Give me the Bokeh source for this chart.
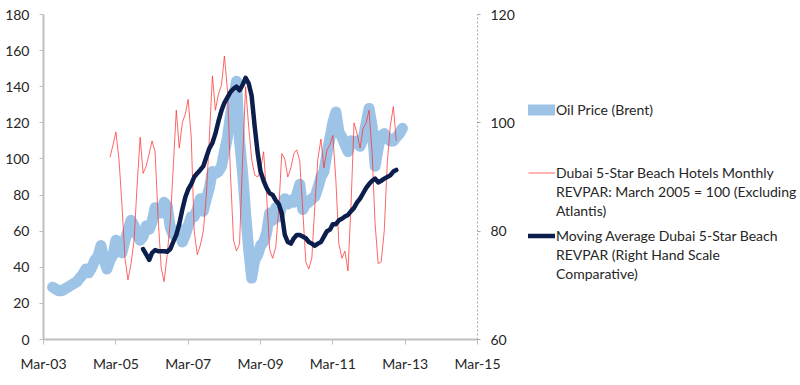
import pandas as pd
from bokeh.plotting import figure
from bokeh.models import (Range1d, LinearAxis, FixedTicker, DatetimeTickFormatter,
                          Legend, LegendItem)
from bokeh.embed import file_html
from bokeh.resources import INLINE

# ---------------- data (monthly) ----------------
oil_start = "2003-06-01"
oil_price = [29, 28, 27, 27, 28, 29, 30,
             31, 32, 34, 36, 39, 37, 40, 44, 46, 52, 44, 39,
             44, 47, 55, 51, 48, 55, 60, 66, 63, 58, 55, 57,
             63, 61, 65, 73, 70, 70, 76, 74, 62, 58, 59, 61,
             54, 58, 63, 68, 68, 72, 78, 71, 78, 84, 93, 92,
             93, 96, 104, 112, 124, 134, 143, 110, 92, 70, 50, 34,
             44, 47, 52, 54, 59, 70, 66, 73, 68, 74, 78, 75,
             77, 76, 80, 86, 72, 75, 76, 78, 79, 84, 90, 93,
             103, 112, 120, 126, 115, 112, 108, 104, 110, 109, 110, 107,
             111, 120, 128, 118, 96, 106, 113, 114, 112, 110, 110, 112,
             114, 117]

revpar_start = "2005-01-01"
revpar_monthly = [101, 108, 115, 100, 75, 45, 33, 42, 55, 85, 112, 92,
                  96, 103, 110, 104, 68, 40, 32, 47, 65, 95, 127, 106,
                  120, 125, 133, 112, 60, 47, 52, 60, 80, 112, 146, 127,
                  136, 141, 157, 138, 92, 55, 49, 53, 100, 140, 118, 100,
                  91, 90, 94, 104, 80, 50, 45, 51, 72, 103, 100, 90,
                  95, 103, 105, 99, 72, 43, 39, 45, 75, 100, 111, 95,
                  105, 108, 113, 88, 53, 45, 49, 38, 75, 120, 114, 106,
                  117, 120, 127, 103, 64, 42, 43, 60, 98, 118, 129, 110]

ma_start = "2005-12-01"
revpar_ma = [76.7, 75.7, 74.7, 76.0, 76.5, 76.3, 76.3, 76.3, 76.2, 76.7, 78.0, 79.3,
             81.3, 84.0, 86.3, 87.7, 88.7, 90.0, 90.7, 91.3, 92.0, 93.7, 95.3, 96.3,
             98.0, 100.3, 102.3, 103.7, 104.7, 105.7, 106.3, 106.7, 106.0, 107.0, 108.3, 107.3,
             105.0, 99.3, 94.3, 91.0, 89.3, 88.0, 87.0, 86.7, 85.7, 85.0, 83.3, 79.3,
             78.0, 77.7, 78.7, 79.3, 79.3, 79.0, 78.7, 78.0, 77.7, 77.3, 77.7, 78.0,
             79.0, 80.0, 80.3, 81.3, 81.3, 82.0, 82.3, 82.7, 83.0, 83.7, 84.3, 85.3,
             86.0, 87.0, 88.0, 88.7, 89.3, 89.7, 89.0, 89.3, 89.7, 90.0, 90.3, 91.0,
             91.3]

tick_dates = ["2003-03-01", "2005-03-01", "2007-03-01", "2009-03-01",
              "2011-03-01", "2013-03-01", "2015-03-01"]

series_names = ["Oil Price (Brent)",
                "Dubai 5-Star Beach Hotels Monthly\nREVPAR: March 2005 = 100 (Excluding\nAtlantis)",
                "Moving Average Dubai 5-Star Beach\nREVPAR (Right Hand Scale\nComparative)"]

left_range = (0, 180)
right_range = (60, 120)
left_ticks = list(range(0, 181, 20))
right_ticks = [60, 80, 100, 120]


def months(start, n):
    return pd.date_range(start, periods=n, freq="MS")


def ms(ts):
    return pd.Timestamp(ts).value / 1e6


def padded(lo, hi, px_lo, px_hi, px_span):
    """extend a data range so that [lo, hi] occupies px_span pixels with
    px_lo pixels of extra room before it and px_hi after it"""
    k = (hi - lo) / px_span
    return Range1d(lo - px_lo * k, hi + px_hi * k)


# ---------------- layout (pixels) ----------------
FONT = "Lato"
TXT = "#262626"
AXIS = "#BFBFBF"
W, H = 800, 385
AX_LEFT = 43              # x of the left axis
AX_RIGHT = 477            # x of the right axis (end of the date axis)
TOP, BOTTOM = 14, 339     # y of the top / bottom of the value axes

x0 = ms(tick_dates[0])
x1 = ms(tick_dates[-1])
x_range = padded(x0, x1, AX_LEFT, W - AX_RIGHT, AX_RIGHT - AX_LEFT)
span = BOTTOM - TOP
y_left = padded(*left_range, H - BOTTOM, TOP, span)
y_right = padded(*right_range, H - BOTTOM, TOP, span)

# the frame covers the whole figure; axes are pinned at fixed data positions
p = figure(width=W, height=H, x_axis_type="datetime",
           x_range=x_range, y_range=y_left,
           output_backend="svg", toolbar_location=None,
           min_border_left=0, min_border_right=0, min_border_top=0,
           min_border_bottom=0)
p.extra_y_ranges = {"right": y_right}
p.outline_line_color = None
p.xgrid.visible = False
p.ygrid.visible = False
p.background_fill_color = "white"
p.border_fill_color = "white"

# x axis, pinned at value 0
xa = p.xaxis[0]
xa.fixed_location = left_range[0]
xa.ticker = FixedTicker(ticks=[ms(t) for t in tick_dates])
xa.formatter = DatetimeTickFormatter(years="%b-%y", months="%b-%y", days="%b-%y",
                                     hours="%b-%y", context=None)
xa.bounds = (x0, x1)
xa.axis_line_color = AXIS
xa.axis_line_width = 2
xa.major_tick_line_color = AXIS
xa.major_tick_out = 5
xa.major_tick_in = 0
xa.minor_tick_line_color = None
xa.major_label_standoff = 10
xa.major_label_text_font = FONT
xa.major_label_text_font_size = "14px"
xa.major_label_text_color = TXT

# left axis, pinned at the first date tick
ya = p.yaxis[0]
ya.fixed_location = x0
ya.ticker = FixedTicker(ticks=left_ticks)
ya.bounds = left_range
ya.axis_line_color = AXIS
ya.axis_line_width = 2
ya.major_tick_line_color = AXIS
ya.major_tick_out = 4
ya.major_tick_in = 0
ya.minor_tick_line_color = None
ya.major_label_standoff = 10
ya.major_label_text_font = FONT
ya.major_label_text_font_size = "14px"
ya.major_label_text_color = TXT

# right axis, pinned at the last date tick
ra = LinearAxis(y_range_name="right", fixed_location=x1, bounds=right_range,
                ticker=FixedTicker(ticks=right_ticks))
ra.axis_line_color = "#A6A6A6"
ra.axis_line_dash = "2 2"
ra.axis_line_width = 1
ra.major_tick_line_color = "#A6A6A6"
ra.major_tick_out = 3
ra.major_tick_in = 0
ra.minor_tick_line_color = None
ra.major_label_standoff = 10
ra.major_label_text_font = FONT
ra.major_label_text_font_size = "14px"
ra.major_label_text_color = TXT
p.add_layout(ra, "right")

# ---------------- series ----------------
r_oil = p.line(months(oil_start, len(oil_price)), oil_price,
               line_color="#9DC3E6", line_width=11, line_cap="round", line_join="round")
r_rev = p.line(months(revpar_start, len(revpar_monthly)), revpar_monthly,
               line_color="#FF3333", line_width=1, line_alpha=0.75, line_join="round")
r_ma = p.line(months(ma_start, len(revpar_ma)), revpar_ma, y_range_name="right",
              line_color="#0B1E4C", line_width=4.5, line_cap="round", line_join="round")
# invisible renderer used for the continuation lines of wrapped legend labels
r_none = p.line([], [], line_alpha=0)

# ---------------- legends (one per entry, Excel spacing) ----------------
ROW = 19
legend_first_line_y = [109, 172, 235]   # pixel centre of each entry's first line
glyph_x = 528
for name, rend, yc in zip(series_names, [r_oil, r_rev, r_ma], legend_first_line_y):
    lines = name.split("\n")
    items = [LegendItem(label=lines[0], renderers=[rend])]
    items += [LegendItem(label=t, renderers=[r_none]) for t in lines[1:]]
    box_bottom = yc - ROW / 2 + ROW * len(lines)
    lg = Legend(items=items, location=(glyph_x, H - box_bottom),
                border_line_alpha=0, background_fill_alpha=0, padding=0, margin=0,
                spacing=0, glyph_width=27, glyph_height=ROW, label_height=ROW,
                label_standoff=1, label_text_font=FONT, label_text_font_size="14px",
                label_text_color=TXT, label_text_baseline="middle")
    p.add_layout(lg, "center")

open("out.html", "w").write(file_html(p, INLINE))
